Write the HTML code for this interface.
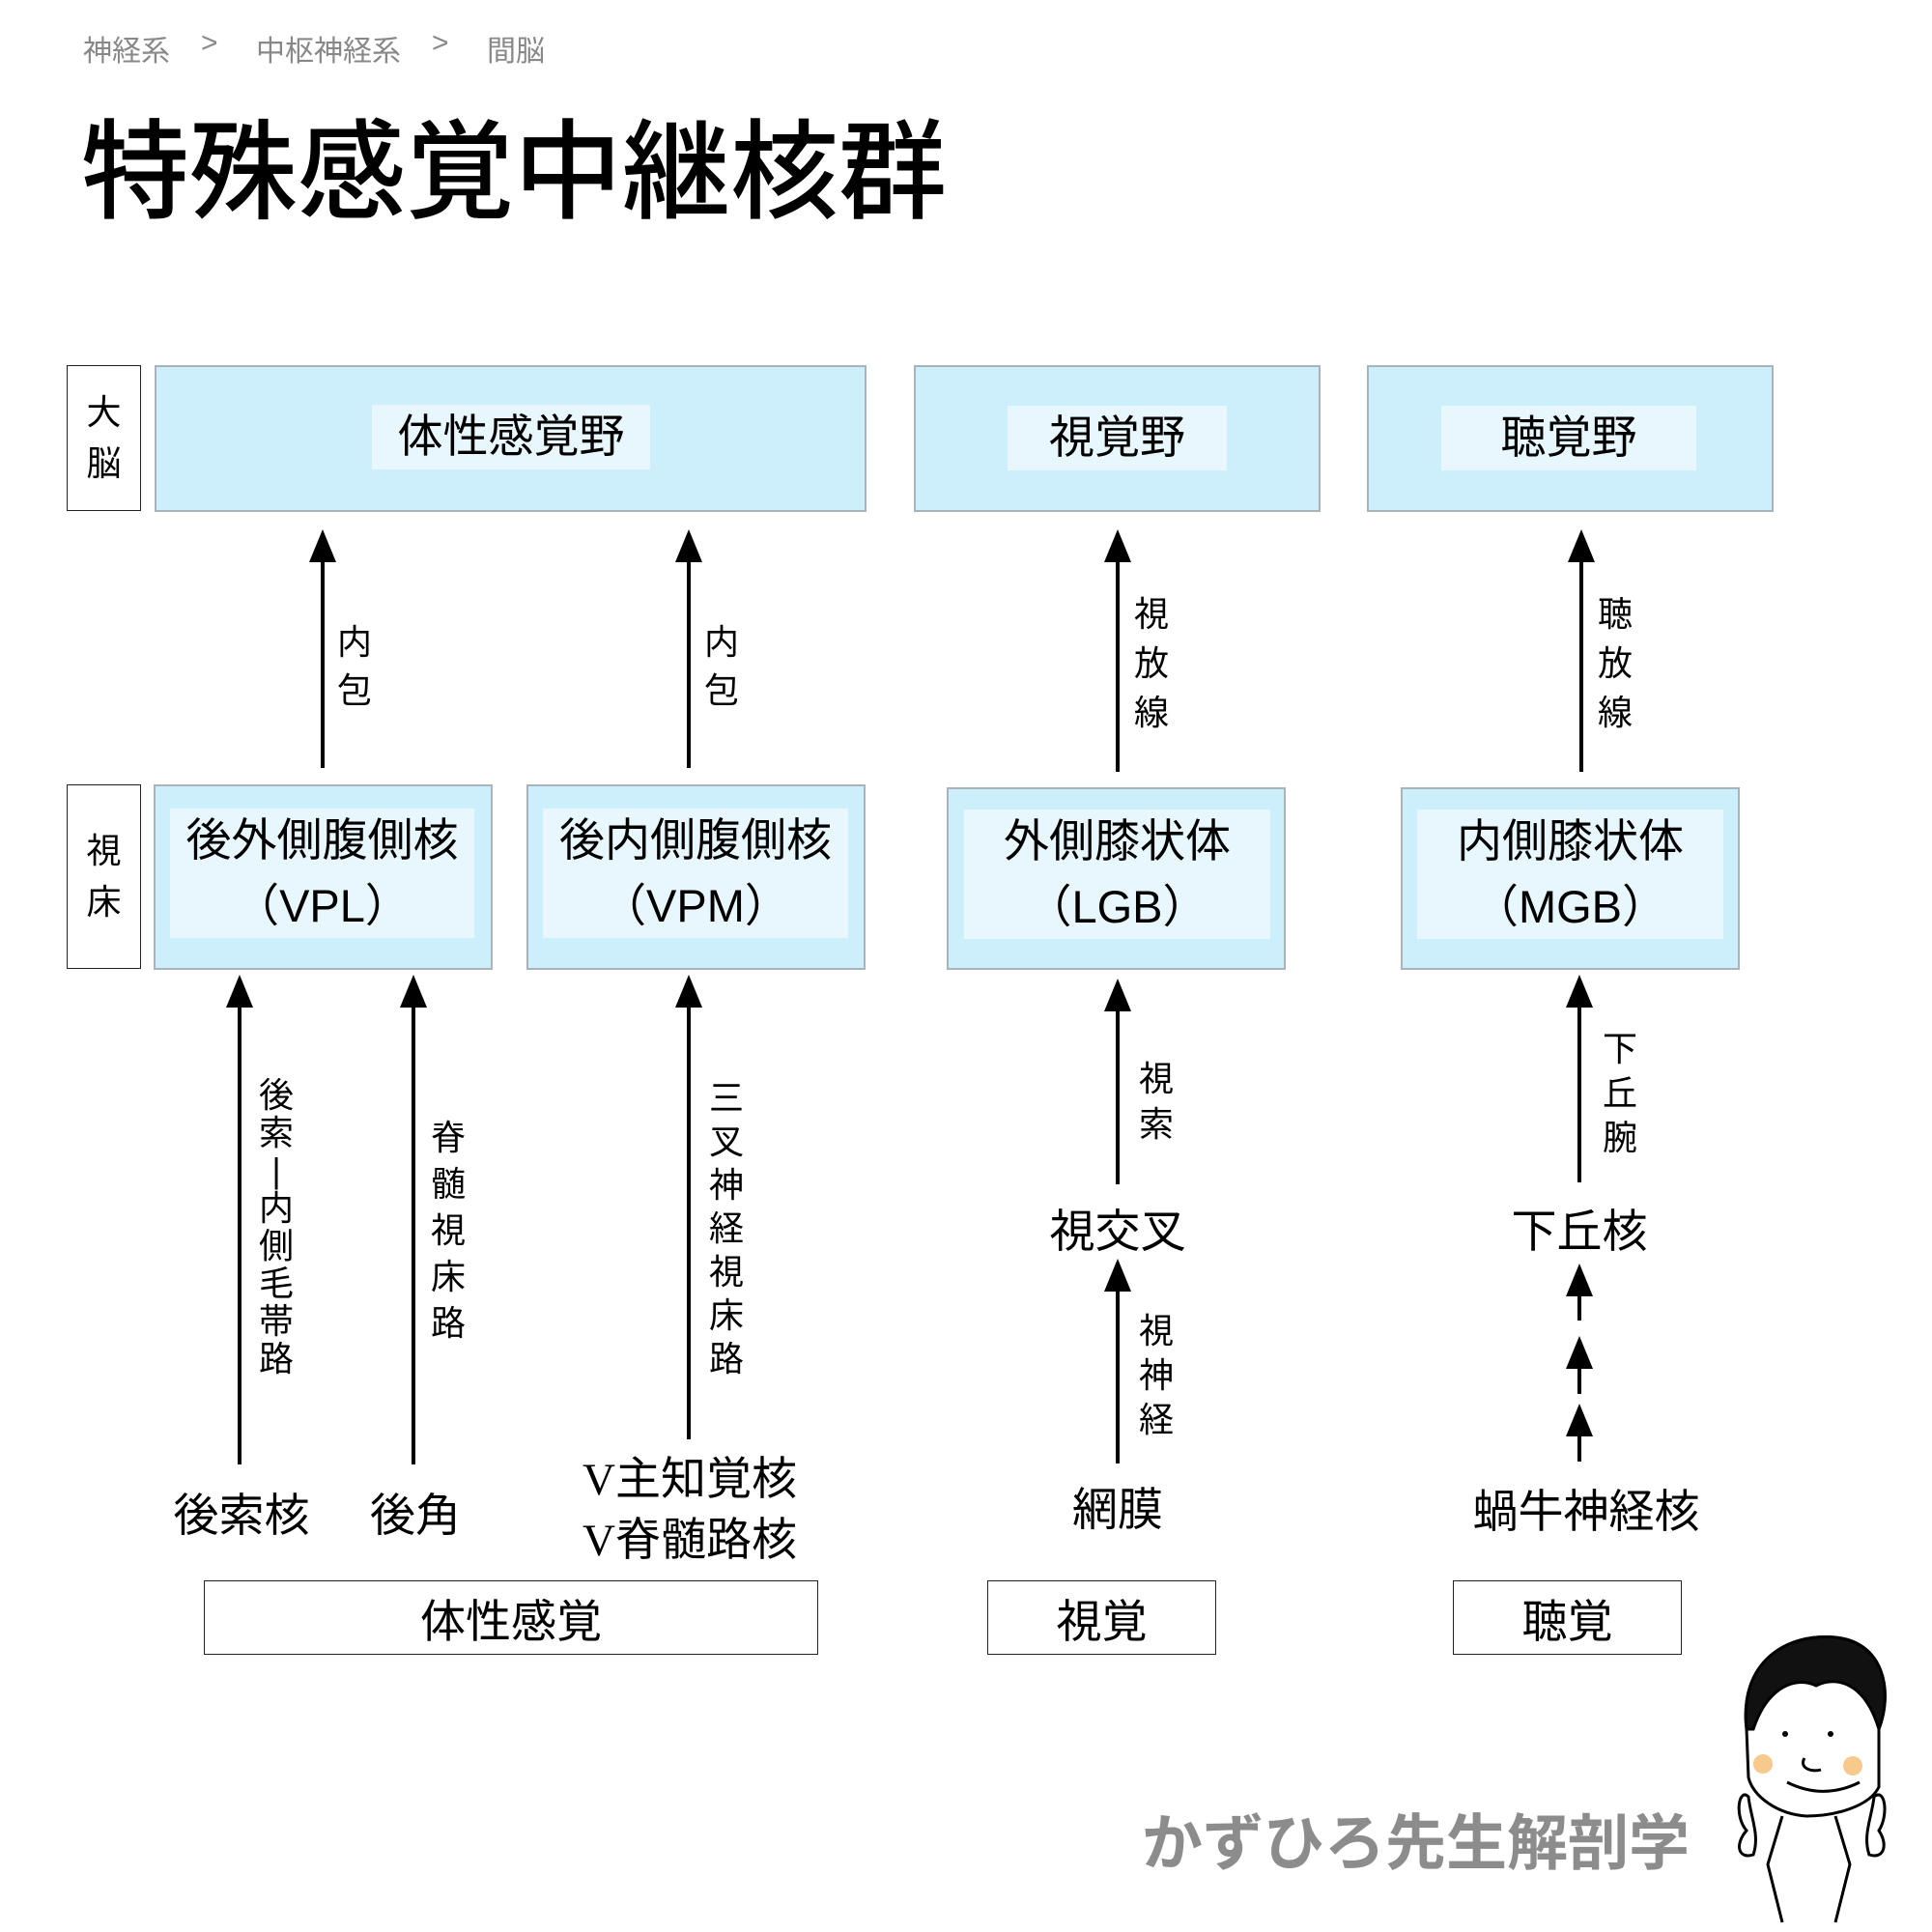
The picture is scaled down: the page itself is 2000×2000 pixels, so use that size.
<!DOCTYPE html>
<html><head><meta charset="utf-8"><style>
*{margin:0;padding:0;box-sizing:border-box}
body{width:2000px;height:2000px;background:#fff;position:relative;overflow:hidden;font-family:"Liberation Sans","Noto Sans CJK JP",sans-serif;color:#000}
.a{position:absolute}
.bx{position:absolute;background:#cdeefb;border:2px solid #a8b4ba}
.in{position:absolute;background:#e8f7fd;display:flex;align-items:center;justify-content:center;text-align:center;font-size:47px;line-height:1.45}
.lb{position:absolute;border:2px solid #222;background:#fff;display:flex;align-items:center;justify-content:center;text-align:center}
.v{position:absolute;font-size:36px;text-align:center;width:44px}
.t{position:absolute;font-size:47px;white-space:nowrap;text-align:center}
.bc{position:absolute;top:28px;font-size:30px;color:#888;white-space:nowrap}
</style></head><body>
<div class="bc" style="left:86px">神経系</div>
<div class="bc" style="left:208px">&gt;</div>
<div class="bc" style="left:265px">中枢神経系</div>
<div class="bc" style="left:447px">&gt;</div>
<div class="bc" style="left:504px">間脳</div>
<div class="a" style="left:84px;top:88px;font-size:112px;font-weight:500;white-space:nowrap;font-family:'Noto Sans CJK JP',sans-serif">特殊感覚中継核群</div>

<div class="lb" style="left:69px;top:378px;width:77px;height:151px;font-size:36px;line-height:1.45;border-width:1.5px">大<br>脳</div>
<div class="lb" style="left:69px;top:812px;width:77px;height:191px;font-size:36px;line-height:1.45;border-width:1.5px">視<br>床</div>

<div class="bx" style="left:160px;top:378px;width:737px;height:152px"></div>
<div class="in" style="left:385px;top:419px;width:288px;height:67px">体性感覚野</div>
<div class="bx" style="left:946px;top:378px;width:421px;height:152px"></div>
<div class="in" style="left:1043px;top:420px;width:227px;height:67px">視覚野</div>
<div class="bx" style="left:1415px;top:378px;width:421px;height:152px"></div>
<div class="in" style="left:1492px;top:420px;width:264px;height:67px">聴覚野</div>

<div class="bx" style="left:159px;top:812px;width:351px;height:192px"></div>
<div class="in" style="left:176px;top:837px;width:315px;height:134px">後外側腹側核<br>（VPL）</div>
<div class="bx" style="left:545px;top:812px;width:351px;height:192px"></div>
<div class="in" style="left:562px;top:837px;width:316px;height:134px">後内側腹側核<br>（VPM）</div>
<div class="bx" style="left:980px;top:815px;width:351px;height:189px"></div>
<div class="in" style="left:998px;top:838px;width:317px;height:134px">外側膝状体<br>（LGB）</div>
<div class="bx" style="left:1450px;top:815px;width:351px;height:189px"></div>
<div class="in" style="left:1467px;top:838px;width:317px;height:134px">内側膝状体<br>（MGB）</div>

<svg class="a" style="left:0;top:0" width="2000" height="2000">
<g fill="#000" stroke="#000" stroke-width="4">
<line x1="334" y1="795" x2="334" y2="570"/><polygon stroke="none" points="334,548 320,582 348,582"/>
<line x1="713" y1="795" x2="713" y2="570"/><polygon stroke="none" points="713,548 699,582 727,582"/>
<line x1="1157" y1="799" x2="1157" y2="570"/><polygon stroke="none" points="1157,548 1143,582 1171,582"/>
<line x1="1637" y1="799" x2="1637" y2="570"/><polygon stroke="none" points="1637,548 1623,582 1651,582"/>
<line x1="248" y1="1516" x2="248" y2="1030"/><polygon stroke="none" points="248,1009 234,1043 262,1043"/>
<line x1="428" y1="1516" x2="428" y2="1030"/><polygon stroke="none" points="428,1009 414,1043 442,1043"/>
<line x1="713" y1="1490" x2="713" y2="1030"/><polygon stroke="none" points="713,1009 699,1043 727,1043"/>
<line x1="1157" y1="1226" x2="1157" y2="1035"/><polygon stroke="none" points="1157,1013 1143,1047 1171,1047"/>
<line x1="1157" y1="1515" x2="1157" y2="1325"/><polygon stroke="none" points="1157,1303 1143,1337 1171,1337"/>
<line x1="1635" y1="1224" x2="1635" y2="1030"/><polygon stroke="none" points="1635,1009 1621,1043 1649,1043"/>
<line x1="1635" y1="1367" x2="1635" y2="1330"/><polygon stroke="none" points="1635,1308 1621,1342 1649,1342"/>
<line x1="1635" y1="1443" x2="1635" y2="1405"/><polygon stroke="none" points="1635,1383 1621,1417 1649,1417"/>
<line x1="1635" y1="1513" x2="1635" y2="1475"/><polygon stroke="none" points="1635,1453 1621,1487 1649,1487"/>
</g>
<g stroke="#000" stroke-width="3" fill="none">
<path d="M1808,1790 C1800,1720 1850,1690 1900,1695 C1950,1700 1960,1750 1945,1790 L1945,1850 C1935,1870 1900,1880 1870,1880 C1840,1878 1815,1860 1810,1840 Z" fill="#fff"/>
<path d="M1808,1790 C1800,1720 1850,1690 1900,1695 C1950,1700 1960,1750 1945,1790 C1930,1740 1900,1735 1880,1745 C1860,1735 1830,1745 1815,1790 Z" fill="#111"/>
<path d="M1850,1845 C1880,1860 1905,1855 1925,1845"/>
<path d="M1868,1820 C1862,1830 1875,1835 1885,1832"/>
<path d="M1845,1880 L1830,1930 L1845,1990 M1900,1880 L1915,1930 L1900,1990"/>
<path d="M1808,1895 C1795,1880 1800,1850 1810,1860 C1812,1880 1822,1900 1815,1920 C1800,1925 1795,1910 1808,1895Z" fill="#fff"/>
<path d="M1945,1895 C1955,1880 1952,1850 1940,1860 C1938,1880 1928,1900 1935,1920 C1950,1925 1955,1910 1945,1895Z" fill="#fff"/>
</g>
<circle cx="1825" cy="1826" r="10" fill="#f7c98d"/>
<circle cx="1918" cy="1828" r="10" fill="#f7c98d"/>
<circle cx="1848" cy="1795" r="3" fill="#000"/><circle cx="1895" cy="1795" r="3" fill="#000"/>
</svg>

<div class="v" style="left:345px;top:640px;line-height:50px">内<br>包</div>
<div class="v" style="left:725px;top:640px;line-height:50px">内<br>包</div>
<div class="v" style="left:1170px;top:610px;line-height:51px">視<br>放<br>線</div>
<div class="v" style="left:1650px;top:610px;line-height:51px">聴<br>放<br>線</div>
<div class="v" style="left:264px;top:1114px;line-height:39px">後<br>索<br>|<br>内<br>側<br>毛<br>帯<br>路</div>
<div class="v" style="left:442px;top:1154px;line-height:48px">脊<br>髄<br>視<br>床<br>路</div>
<div class="v" style="left:730px;top:1114px;line-height:45px">三<br>叉<br>神<br>経<br>視<br>床<br>路</div>
<div class="v" style="left:1175px;top:1093px;line-height:47px">視<br>索</div>
<div class="v" style="left:1175px;top:1355px;line-height:46px">視<br>神<br>経</div>
<div class="v" style="left:1655px;top:1063px;line-height:46px">下<br>丘<br>腕</div>

<div class="t" style="left:150px;top:1530px;width:200px">後索核</div>
<div class="t" style="left:330px;top:1530px;width:200px">後角</div>
<div class="t" style="left:603px;top:1500px;width:230px;line-height:62px;text-align:left"><span style="font-family:'Liberation Serif',serif">V</span>主知覚核<br><span style="font-family:'Liberation Serif',serif">V</span>脊髄路核</div>
<div class="t" style="left:1057px;top:1236px;width:200px">視交叉</div>
<div class="t" style="left:1057px;top:1524px;width:200px">網膜</div>
<div class="t" style="left:1535px;top:1236px;width:200px">下丘核</div>
<div class="t" style="left:1502px;top:1526px;width:280px">蝸牛神経核</div>

<div class="lb" style="left:211px;top:1636px;width:636px;height:77px;font-size:47px;border-width:1.5px">体性感覚</div>
<div class="lb" style="left:1022px;top:1636px;width:237px;height:77px;font-size:47px;border-width:1.5px">視覚</div>
<div class="lb" style="left:1504px;top:1636px;width:237px;height:77px;font-size:47px;border-width:1.5px">聴覚</div>

<div class="a" style="left:1182px;top:1858px;font-size:63px;color:#8c8c8c;font-weight:bold;white-space:nowrap">かずひろ先生解剖学</div>
</body></html>
